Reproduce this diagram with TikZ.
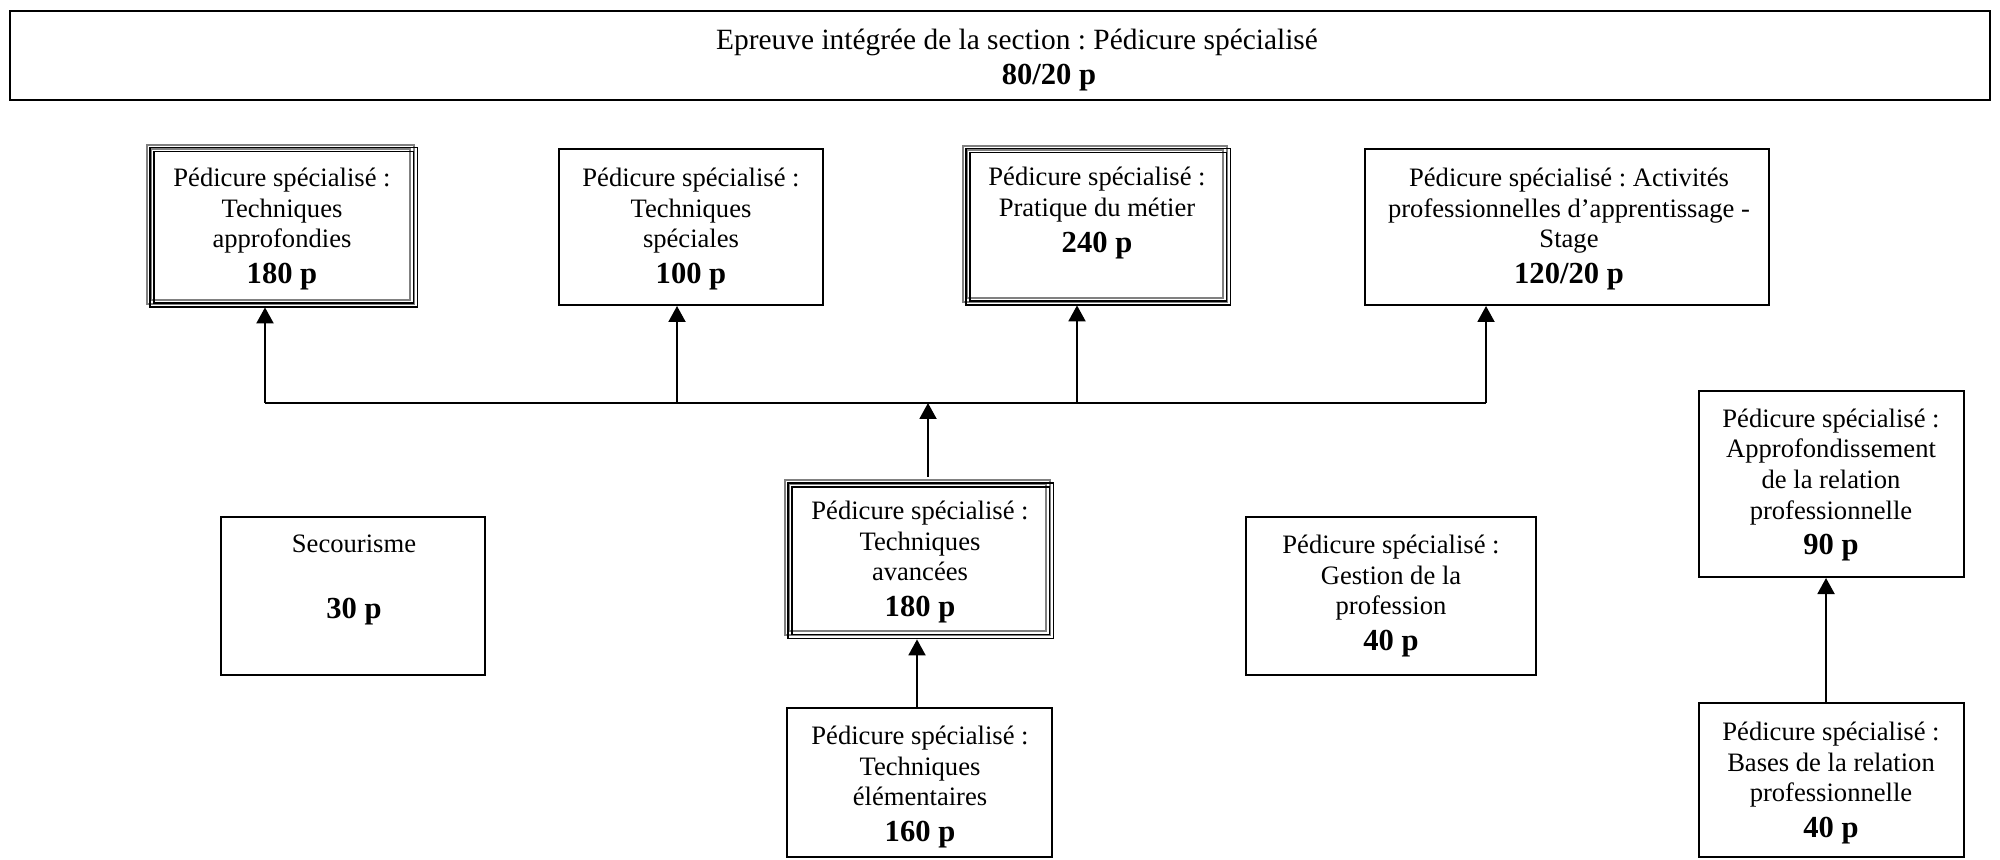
\documentclass[tikz,border=0pt]{standalone}
\usepackage{fontspec}
\setmainfont{Liberation Serif}
\usetikzlibrary{arrows.meta}
\frenchspacing
\newcommand{\tripleframe}[1]{%
  \draw[gray, line width=1pt] (#1.north west) rectangle (#1.south east);
  \draw[gray, line width=1pt] ([shift={(4,4)}]#1.north west) rectangle ([shift={(-4,-4)}]#1.south east);
  \draw[black, line width=0.9pt] ([shift={(3,3)}]#1.north west) rectangle ([shift={(3,3)}]#1.south east);
  \draw[black, line width=0.9pt] ([shift={(7,7)}]#1.north west) rectangle ([shift={(-1,-1)}]#1.south east);
}
\newcommand{\pts}[1]{\\[2.5pt]{\fontsize{15.3}{17.5}\selectfont\bfseries #1}}
\tikzset{
  box/.style={draw=black, line width=1pt, inner sep=0pt},
  tbox/.style={inner sep=0pt},
  txt/.style={align=center, inner sep=0pt, font=\fontsize{13.3}{15.3}\selectfont},
  arr/.style={line width=1pt, -{Triangle[width=8.5pt,length=8pt]}},
  conn/.style={line width=1pt}
}
\begin{document}
\begin{tikzpicture}[x=0.5pt,y=-0.5pt]
\useasboundingbox (0,0) rectangle (2000,860);
\fill[white] (0,0) rectangle (2000,860);

% top box
\node[box, line width=1.2pt, minimum width=990pt, minimum height=44.5pt] (top) at (1000,55.5) {};
\node[txt, font=\fontsize{14.7}{17}\selectfont, anchor=base] (toptxt) at (1017,50) {Epreuve intégrée de la section : Pédicure spécialisé};
\node[txt, font=\fontsize{15.3}{17.5}\selectfont\bfseries, anchor=base] (toppts) at (1049,85) {80/20 p};

% row 1
\node[tbox, minimum width=133.5pt, minimum height=79.5pt] (A) at (280.5,224.5) {};
\tripleframe{A}
\node[txt] (Atxt) at (282,229) {Pédicure spécialisé :\\Techniques\\approfondies\pts{180 p}};

\node[box, minimum width=132pt, minimum height=78pt] (B) at (691,227) {};
\node[txt] (Btxt) at (691,229) {Pédicure spécialisé :\\Techniques\\spéciales\pts{100 p}};

\node[tbox, minimum width=132pt, minimum height=78pt] (C) at (1095,224) {};
\tripleframe{C}
\node[txt] (Ctxt) at (1097,213) {Pédicure spécialisé :\\Pratique du métier\pts{240 p}};

\node[box, minimum width=202pt, minimum height=78pt] (D) at (1567,227) {};
\node[txt] (Dtxt) at (1569,229) {Pédicure spécialisé : Activités\\professionnelles d’apprentissage -\\Stage\pts{120/20 p}};

% middle
\node[tbox, minimum width=132.5pt, minimum height=77.5pt] (E) at (917.5,557.5) {};
\tripleframe{E}
\node[txt] (Etxt) at (920,562) {Pédicure spécialisé :\\Techniques\\avancées\pts{180 p}};

\node[box, minimum width=132.5pt, minimum height=74.5pt] (F) at (919.5,782.5) {};
\node[txt] (Ftxt) at (920,787) {Pédicure spécialisé :\\Techniques\\élémentaires\pts{160 p}};

\node[box, minimum width=132pt, minimum height=79pt] (S) at (353,596) {};
\node[txt] (Stxt) at (354,580) {Secourisme\\\mbox{}\pts{30 p}};

\node[box, minimum width=145pt, minimum height=79pt] (G) at (1391,596) {};
\node[txt] (Gtxt) at (1391,596) {Pédicure spécialisé :\\Gestion de la\\profession\pts{40 p}};

\node[box, minimum width=132.5pt, minimum height=93pt] (R) at (1831.5,484) {};
\node[txt] (Rtxt) at (1831,485) {Pédicure spécialisé :\\Approfondissement\\de la relation\\professionnelle\pts{90 p}};

\node[box, minimum width=132.5pt, minimum height=77pt] (Ba) at (1831.5,780) {};
\node[txt] (Batxt) at (1831,783) {Pédicure spécialisé :\\Bases de la relation\\professionnelle\pts{40 p}};

% connectors
\coordinate (jA) at (265,403);
\coordinate (jB) at (677,403);
\coordinate (jE) at (928,403);
\coordinate (jC) at (1077,403);
\coordinate (jD) at (1486,403);
\draw[conn] (jA) -- (jD);
\draw[arr] (jA) -- ([yshift=-1.5pt]jA |- A.south);
\draw[arr] (jB) -- (jB |- B.south);
\draw[arr] (jC) -- ([yshift=-1.5pt]jC |- C.south);
\draw[arr] (jD) -- (jD |- D.south);
\draw[arr] ([yshift=1.5pt]jE |- E.north) -- (jE);
\draw[arr] (F.north -| 917,0) -- ([yshift=-2pt]E.south -| 917,0);
\draw[arr] (Ba.north -| 1826,0) -- (R.south -| 1826,0);
\end{tikzpicture}
\end{document}
